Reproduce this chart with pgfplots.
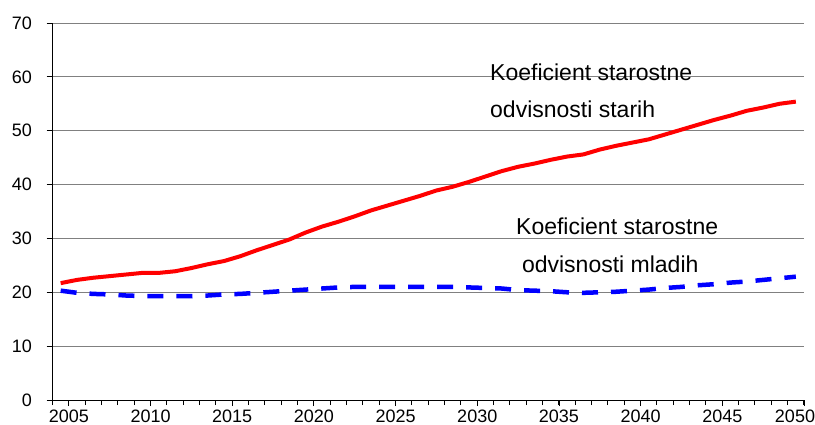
\documentclass[border=0pt]{standalone}
\usepackage{pgfplots}
\pgfplotsset{compat=1.18}
\usepackage{pgfplotstable}
\usepackage{fontspec}
\setmainfont{Liberation Sans}

\pgfplotstableread{
year old young
2005 21.7 20.3
2006 22.3 19.9
2007 22.7 19.7
2008 23.0 19.6
2009 23.3 19.4
2010 23.6 19.3
2011 23.6 19.3
2012 23.9 19.3
2013 24.5 19.3
2014 25.2 19.4
2015 25.8 19.6
2016 26.7 19.7
2017 27.8 19.9
2018 28.8 20.1
2019 29.8 20.3
2020 31.1 20.5
2021 32.2 20.7
2022 33.1 20.9
2023 34.1 21.0
2024 35.2 21.0
2025 36.1 21.0
2026 37.0 21.0
2027 37.9 21.0
2028 38.9 21.0
2029 39.6 21.0
2030 40.5 20.9
2031 41.5 20.8
2032 42.5 20.7
2033 43.3 20.4
2034 43.9 20.3
2035 44.6 20.2
2036 45.2 20.0
2037 45.6 19.9
2038 46.5 20.0
2039 47.2 20.1
2040 47.8 20.3
2041 48.4 20.5
2042 49.3 20.8
2043 50.2 21.0
2044 51.1 21.3
2045 52.0 21.5
2046 52.8 21.8
2047 53.7 22.0
2048 54.3 22.3
2049 55.0 22.6
2050 55.4 22.9
}\datatable

\begin{document}
\begin{tikzpicture}
\path[use as bounding box] (-52.5bp,-25bp) rectangle (762.5bp,400bp);
\begin{axis}[
  scale only axis, width=751.5bp, height=377bp,
  anchor=south west, at={(0,0)},
  xmin=2004, xmax=2050, ymin=0, ymax=70,
  xtick={2005,2010,...,2045}, minor xtick={2004,...,2050},
  extra x ticks={2050},
  extra x tick style={xticklabel style={xshift=-9bp}},
  ytick={0,10,...,70},
  axis x line*=bottom, axis y line*=left,
  axis line style={black, line width=0.9bp},
  tick align=outside,
  major tick length=6bp, minor tick length=5bp,
  every tick/.style={black, line width=0.9bp},
  ymajorgrids, grid style={black!50, line width=0.9bp},
  tick label style={font=\fontsize{18bp}{20bp}\selectfont},
  yticklabel style={xshift=-11bp},
  /pgf/number format/assume math mode=true,
  /pgf/number format/1000 sep={},
  clip=false,
]
\addplot[red, line width=4bp, line join=round] table[x expr=\thisrow{year}-0.5, y=old] {\datatable};
\addplot[blue, line width=4.5bp, dash pattern=on 16bp off 13bp] table[x expr=\thisrow{year}-0.5, y=young] {\datatable};
\node[anchor=west, inner sep=0pt, font=\fontsize{23bp}{27bp}\selectfont] at (axis cs:2030.78,60.9) {Koeficient starostne};
\node[anchor=west, inner sep=0pt, font=\fontsize{23bp}{27bp}\selectfont] at (axis cs:2030.78,54.0) {odvisnosti starih};
\node[anchor=west, inner sep=0pt, font=\fontsize{23bp}{27bp}\selectfont] at (axis cs:2032.37,32.3) {Koeficient starostne};
\node[anchor=west, inner sep=0pt, font=\fontsize{23bp}{27bp}\selectfont] at (axis cs:2032.73,25.2) {odvisnosti mladih};
\end{axis}
\end{tikzpicture}
\end{document}
